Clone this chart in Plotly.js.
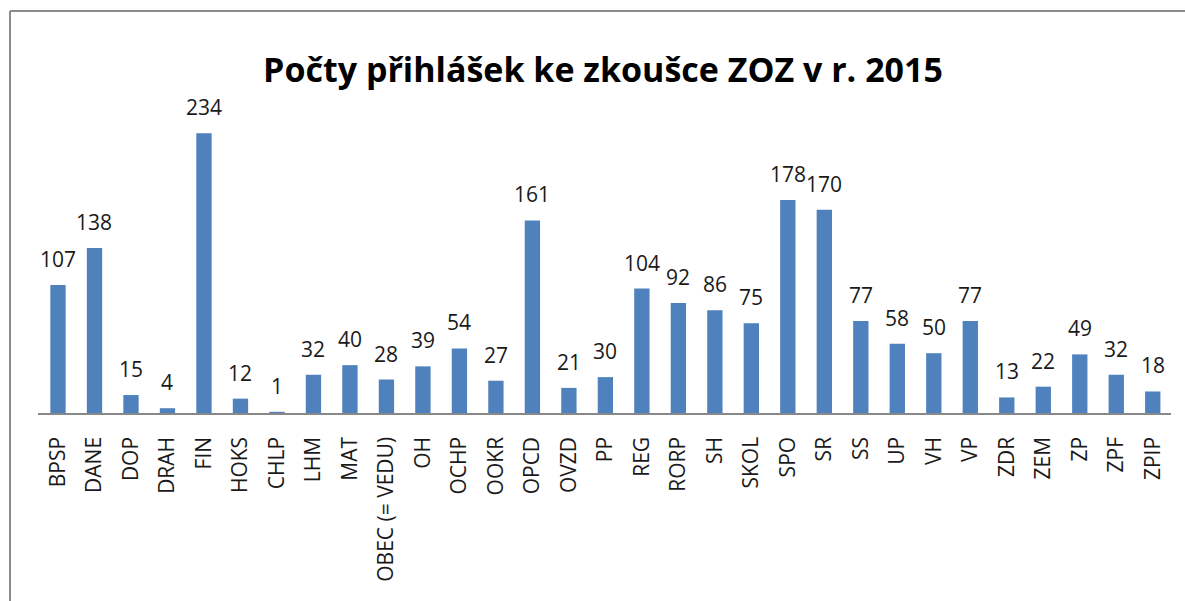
<!DOCTYPE html>
<html>
<head>
<meta charset="utf-8">
<script src="https://cdn.plot.ly/plotly-3.0.1.min.js"></script>
<style>html,body{margin:0;padding:0;background:#fff;}#chart{width:1185px;height:601px;}</style>
</head>
<body>
<div id="chart"></div>
<script>
const categories = ["BPSP","DANE","DOP","DRAH","FIN","HOKS","CHLP","LHM","MAT","OBEC (= VEDU)","OH","OCHP","OOKR","OPCD","OVZD","PP","REG","RORP","SH","SKOL","SPO","SR","SS","UP","VH","VP","ZDR","ZEM","ZP","ZPF","ZPIP"];
const values = [107,138,15,4,234,12,1,32,40,28,39,54,27,161,21,30,104,92,86,75,178,170,77,58,50,77,13,22,49,32,18];
const chartTitle = "Počty přihlášek ke zkoušce ZOZ v r. 2015";

const L = 38, R = 14, T = 114, B = 188, W = 1185, H = 601;
const pw = W - L - R, ph = H - T - B;

const trace = {
  type: 'bar',
  x: categories,
  y: values,
  marker: {color: '#4F81BD'},
  hoverinfo: 'x+y'
};

const labelAnnotations = categories.map((c, i) => ({
  x: c, y: values[i], xref: 'x', yref: 'y',
  text: String(values[i]), showarrow: false,
  xanchor: 'center', yanchor: 'bottom', yshift: 10,
  font: {family: 'Open Sans, sans-serif', size: 21, color: '#1a1a1a'}
}));

const layout = {
  width: W, height: H,
  margin: {l: L, r: R, t: T, b: B, pad: 0},
  paper_bgcolor: '#fff', plot_bgcolor: '#fff',
  bargap: 0.58,
  showlegend: false,
  title: {text: '<b>' + chartTitle + '</b>', font: {family: 'Open Sans, sans-serif', size: 34, color: '#000'}, xref: 'container', x: 603/W, xanchor: 'center', y: 1 - 70/H, yanchor: 'middle'},
  xaxis: {
    type: 'category', tickangle: -90, showgrid: false, zeroline: false,
    showline: true, linecolor: '#888', linewidth: 1.5, ticks: '', ticklabelstandoff: 14,
    tickfont: {family: 'Open Sans, sans-serif', size: 21, color: '#1a1a1a'}
  },
  yaxis: {range: [0, 250], visible: false, showgrid: false, zeroline: false, fixedrange: true},
  annotations: labelAnnotations,
  shapes: [
    {type: 'line', xref: 'paper', yref: 'paper', x0: (10 - L)/pw, x1: (10 - L)/pw, y0: (H - B - 11)/ph, y1: -(B + 5)/ph, line: {color: '#8c8c8c', width: 2}},
    {type: 'line', xref: 'paper', yref: 'paper', x0: (10 - L)/pw, x1: (W + 5 - L)/pw, y0: (H - B - 11)/ph, y1: (H - B - 11)/ph, line: {color: '#8c8c8c', width: 2}}
  ]
};

Plotly.newPlot('chart', [trace], layout, {displayModeBar: false, staticPlot: true});
</script>
</body>
</html>
